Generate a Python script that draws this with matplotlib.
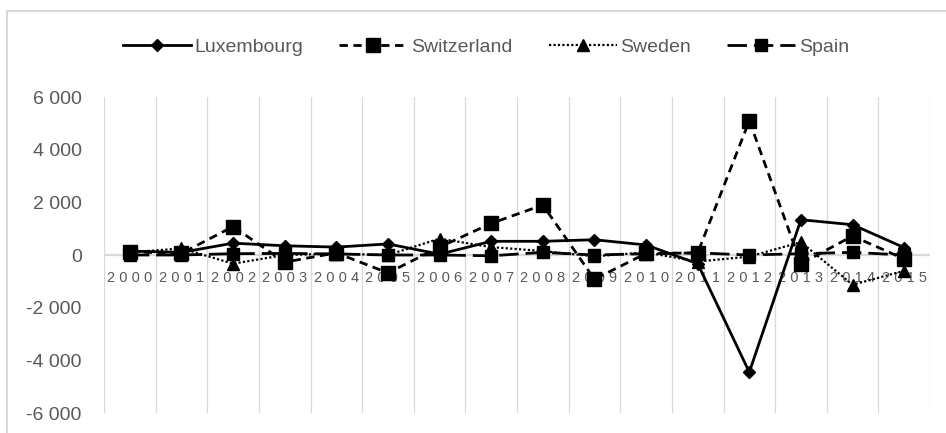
import matplotlib
matplotlib.use("Agg")
import matplotlib.pyplot as plt
from matplotlib.patches import Rectangle

years = [str(y) for y in range(2000, 2016)]
luxembourg = [150, 100, 450, 350, 300, 420, 30, 520, 520, 580, 380, -330, -4450, 1340, 1150, 280]
switzerland = [120, 60, 1080, -270, 80, -680, 300, 1200, 1900, -920, 60, 80, 5100, -330, 720, -150]
sweden = [100, 250, -330, 0, 50, 0, 620, 300, 150, -50, 100, -250, -60, 490, -1130, -600]
spain = [0, 0, 50, 60, 40, 0, 0, -30, 100, 0, 50, 80, 0, 50, 100, 0]
series_names = ["Luxembourg", "Switzerland", "Sweden", "Spain"]
yticks = [-6000, -4000, -2000, 0, 2000, 4000, 6000]

plt.rcParams['font.family'] = ['Liberation Sans', 'DejaVu Sans']
TXT = '#595959'
GRID = '#d9d9d9'

fig = plt.figure(figsize=(9.46, 4.33), dpi=100)
ax = fig.add_axes([104/946, 20/433, 826/946, 316/433])

x = list(range(len(years)))
ax.plot(x, luxembourg, color='black', lw=2, marker='D', ms=6, label=series_names[0], zorder=3)
ax.plot(x, switzerland, color='black', lw=2, dashes=(3, 2), marker='s', ms=10, label=series_names[1], zorder=3)
ax.plot(x, sweden, color='black', lw=1.6, dashes=(1, 1), marker='^', ms=9, label=series_names[2], zorder=3)
ax.plot(x, spain, color='black', lw=2, dashes=(7, 2.5), marker='s', ms=9, label=series_names[3], zorder=3)

ax.set_xlim(-0.5, len(years) - 0.5)
ax.set_ylim(-6000, 6000)
for i in range(len(years) + 1):
    ax.axvline(i - 0.5, color=GRID, lw=0.9, zorder=0)
ax.axhline(0, color=GRID, lw=1.6, zorder=1)

for s in ax.spines.values():
    s.set_visible(False)
ax.set_xticks([])
ax.set_yticks(yticks)
ax.set_yticklabels([f"{v:,}".replace(",", " ") for v in yticks], color=TXT, fontsize=14)
ax.tick_params(axis='y', length=0, pad=16)

for i, yr in enumerate(years):
    ax.annotate(" ".join(yr), xy=(i, 0), xytext=(0, -23.5), textcoords='offset pixels',
                ha='center', va='center', fontsize=10.5, color=TXT, zorder=2)

leg = fig.legend(loc='center', bbox_to_anchor=(486/946, 1 - 47/433), ncol=4, frameon=False,
                 fontsize=14, handlelength=3.5, handletextpad=0.2, columnspacing=1.85,
                 labelcolor=TXT)

fig.add_artist(Rectangle((7/946, -0.2), 1.2, 1.2 - 11/433, transform=fig.transFigure,
                         fill=False, ec=GRID, lw=1.5))

fig.savefig("out.png", dpi=100)
